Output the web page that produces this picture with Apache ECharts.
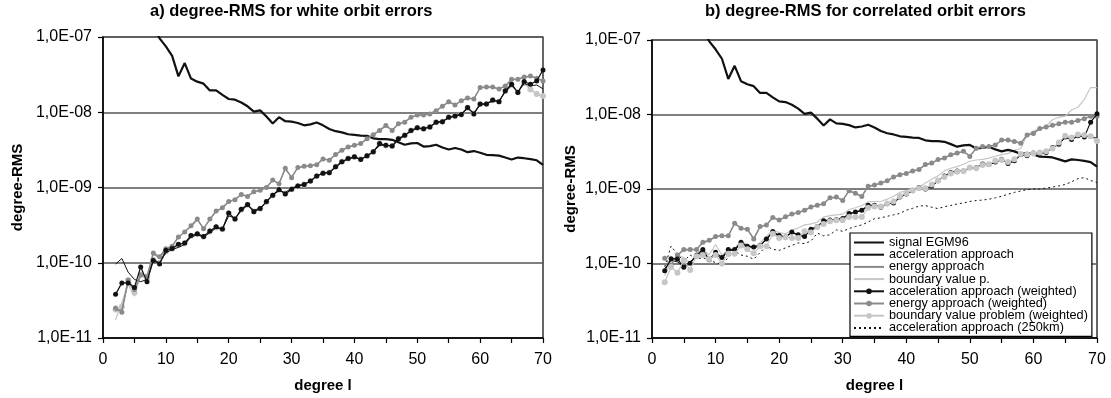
<!DOCTYPE html>
<html><head><meta charset="utf-8">
<script src="https://cdn.jsdelivr.net/npm/echarts@6/dist/echarts.min.js"></script>
<style>html,body{margin:0;padding:0;background:#fff}#c{width:1111px;height:398px}</style>
</head><body><div id="c"></div>
<script>
const degrees = [2,3,4,5,6,7,8,9,10,11,12,13,14,15,16,17,18,19,20,21,22,23,24,25,26,27,28,29,30,31,32,33,34,35,36,37,38,39,40,41,42,43,44,45,46,47,48,49,50,51,52,53,54,55,56,57,58,59,60,61,62,63,64,65,66,67,68,69,70];

const xTicks = [0,10,20,30,40,50,60,70];
const yTicks = ['1,0E-11','1,0E-10','1,0E-09','1,0E-08','1,0E-07'];

// signal EGM96 (same in both panels); degrees 2-7 lie above the plotted range
const signalEGM96 = [null,null,null,null,null,null,1.4e-7,9.6e-8,7.5e-8,5.6e-8,3.0e-8,4.5e-8,2.8e-8,2.55e-8,2.4e-8,1.95e-8,1.95e-8,1.7e-8,1.5e-8,1.47e-8,1.35e-8,1.2e-8,1.02e-8,1.06e-8,8.8e-9,7.1e-9,8.6e-9,7.6e-9,7.5e-9,7.2e-9,6.7e-9,6.9e-9,7.3e-9,6.7e-9,6.0e-9,5.6e-9,5.4e-9,5.1e-9,5.0e-9,4.9e-9,4.85e-9,4.5e-9,4.4e-9,4.4e-9,4.3e-9,4.0e-9,3.7e-9,3.85e-9,3.9e-9,3.5e-9,3.55e-9,3.7e-9,3.4e-9,3.2e-9,3.35e-9,3.2e-9,2.95e-9,3.05e-9,2.9e-9,2.72e-9,2.7e-9,2.65e-9,2.5e-9,2.35e-9,2.5e-9,2.45e-9,2.38e-9,2.3e-9,2.0e-9];

// a) white orbit errors
const whiteAcc = [9.6e-11,1.14e-10,7.5e-11,6.0e-11,5.6e-11,6.0e-11,1.1e-10,1.0e-10,1.35e-10,1.5e-10,1.6e-10,1.75e-10,2.2e-10,2.35e-10,2.2e-10,2.5e-10,2.9e-10,2.8e-10,4.2e-10,3.9e-10,4.9e-10,5.8e-10,5.0e-10,5.3e-10,6.5e-10,8.0e-10,9.0e-10,8.6e-10,9.8e-10,1.06e-9,1.1e-9,1.22e-9,1.42e-9,1.56e-9,1.6e-9,1.85e-9,2.15e-9,2.4e-9,2.5e-9,2.4e-9,2.6e-9,3.0e-9,3.6e-9,3.7e-9,3.5e-9,4.3e-9,4.9e-9,5.6e-9,6.1e-9,6.0e-9,6.5e-9,7.2e-9,7.6e-9,8.4e-9,9.0e-9,9.5e-9,1.12e-8,9.8e-9,1.25e-8,1.3e-8,1.4e-8,1.42e-8,1.85e-8,2.25e-8,1.85e-8,2.4e-8,2.25e-8,2.3e-8,2.05e-8];
const whiteEnergy = [2.3e-11,2.4e-11,5.5e-11,4.2e-11,7.2e-11,6.4e-11,1.3e-10,1.15e-10,1.5e-10,1.7e-10,2.15e-10,2.6e-10,3.0e-10,3.7e-10,2.9e-10,3.7e-10,4.8e-10,5.3e-10,6.4e-10,7.0e-10,8.0e-10,7.7e-10,8.7e-10,9.3e-10,1.0e-9,1.24e-9,1.13e-9,1.75e-9,1.38e-9,1.83e-9,1.9e-9,1.96e-9,2.02e-9,2.38e-9,2.33e-9,2.7e-9,3.1e-9,3.4e-9,3.6e-9,3.85e-9,4.4e-9,5.0e-9,5.7e-9,6.5e-9,5.8e-9,6.9e-9,7.4e-9,8.5e-9,9.1e-9,9.2e-9,9.6e-9,1.06e-8,1.19e-8,1.36e-8,1.27e-8,1.41e-8,1.53e-8,1.52e-8,2.1e-8,2.15e-8,2.15e-8,2.05e-8,2.25e-8,2.7e-8,2.75e-8,2.9e-8,3.0e-8,2.8e-8,2.65e-8];
const whiteBvp = [1.75e-11,3.0e-11,5.2e-11,3.6e-11,6.8e-11,6.0e-11,1.05e-10,1.0e-10,1.38e-10,1.52e-10,1.7e-10,1.8e-10,2.25e-10,2.35e-10,2.2e-10,2.55e-10,2.9e-10,2.75e-10,4.4e-10,3.8e-10,5.0e-10,5.9e-10,4.9e-10,5.2e-10,6.4e-10,7.9e-10,9.3e-10,8.2e-10,9.4e-10,1.04e-9,1.09e-9,1.21e-9,1.4e-9,1.54e-9,1.57e-9,1.87e-9,2.18e-9,2.4e-9,2.55e-9,2.35e-9,2.62e-9,2.95e-9,3.75e-9,3.6e-9,3.55e-9,4.4e-9,4.9e-9,5.7e-9,6.2e-9,6.0e-9,6.3e-9,7.3e-9,7.5e-9,8.5e-9,8.9e-9,9.3e-9,1.14e-8,9.6e-9,1.27e-8,1.28e-8,1.43e-8,1.38e-8,1.9e-8,2.3e-8,1.85e-8,2.45e-8,2.05e-8,1.72e-8,1.6e-8];
const whiteAccW = [3.8e-11,5.4e-11,5.4e-11,4.7e-11,8.8e-11,5.6e-11,1.07e-10,9.6e-11,1.47e-10,1.55e-10,1.76e-10,1.83e-10,2.3e-10,2.42e-10,2.24e-10,2.65e-10,3.0e-10,2.8e-10,4.6e-10,3.8e-10,5.15e-10,5.95e-10,4.75e-10,5.25e-10,6.5e-10,7.9e-10,9.4e-10,8.2e-10,9.5e-10,1.05e-9,1.1e-9,1.22e-9,1.42e-9,1.55e-9,1.57e-9,1.89e-9,2.2e-9,2.43e-9,2.56e-9,2.36e-9,2.64e-9,2.98e-9,3.83e-9,3.64e-9,3.57e-9,4.46e-9,4.93e-9,5.74e-9,6.22e-9,6.04e-9,6.35e-9,7.39e-9,7.5e-9,8.6e-9,8.9e-9,9.3e-9,1.16e-8,9.5e-9,1.29e-8,1.29e-8,1.45e-8,1.38e-8,1.93e-8,2.36e-8,1.83e-8,2.56e-8,2.36e-8,2.61e-8,3.64e-8];
const whiteEnergyW = [2.5e-11,2.2e-11,5.9e-11,4.4e-11,6.9e-11,6.6e-11,1.35e-10,1.2e-10,1.54e-10,1.66e-10,2.2e-10,2.56e-10,3.1e-10,3.8e-10,2.82e-10,3.8e-10,4.86e-10,5.4e-10,6.5e-10,6.9e-10,8.1e-10,7.6e-10,8.8e-10,9.2e-10,1.0e-9,1.26e-9,1.12e-9,1.8e-9,1.35e-9,1.85e-9,1.92e-9,1.95e-9,2.0e-9,2.4e-9,2.31e-9,2.74e-9,3.13e-9,3.46e-9,3.64e-9,3.83e-9,4.46e-9,5.03e-9,5.74e-9,6.68e-9,5.74e-9,7.02e-9,7.39e-9,8.6e-9,9.2e-9,9.2e-9,9.5e-9,1.05e-8,1.2e-8,1.38e-8,1.25e-8,1.42e-8,1.55e-8,1.5e-8,2.13e-8,2.17e-8,2.17e-8,2.03e-8,2.24e-8,2.75e-8,2.75e-8,2.95e-8,3.04e-8,2.83e-8,2.61e-8];
const whiteBvpW = [2.4e-11,2.6e-11,5.8e-11,4.0e-11,7.0e-11,6.2e-11,1.1e-10,1.0e-10,1.4e-10,1.53e-10,1.72e-10,1.82e-10,2.28e-10,2.4e-10,2.22e-10,2.6e-10,2.95e-10,2.78e-10,4.5e-10,3.8e-10,5.1e-10,5.9e-10,4.8e-10,5.2e-10,6.4e-10,7.8e-10,9.3e-10,8.3e-10,9.5e-10,1.05e-9,1.1e-9,1.22e-9,1.41e-9,1.55e-9,1.58e-9,1.88e-9,2.2e-9,2.42e-9,2.55e-9,2.37e-9,2.63e-9,2.97e-9,3.8e-9,3.62e-9,3.56e-9,4.45e-9,4.92e-9,5.7e-9,6.2e-9,6.0e-9,6.35e-9,7.35e-9,7.5e-9,8.55e-9,8.9e-9,9.3e-9,1.15e-8,9.6e-9,1.28e-8,1.29e-8,1.44e-8,1.39e-8,1.9e-8,2.33e-8,1.85e-8,2.45e-8,2.0e-8,1.75e-8,1.65e-8];

// b) correlated orbit errors
const corrAcc = [8.5e-11,1.1e-10,1.05e-10,9.2e-11,1.05e-10,1.25e-10,1.45e-10,1.1e-10,1.35e-10,1.15e-10,1.5e-10,1.5e-10,1.85e-10,1.7e-10,1.62e-10,1.72e-10,2.1e-10,2.6e-10,2.35e-10,2.25e-10,2.6e-10,2.4e-10,2.3e-10,2.8e-10,3.1e-10,3.7e-10,3.75e-10,3.85e-10,4.0e-10,4.6e-10,4.9e-10,5.1e-10,5.9e-10,6.0e-10,5.75e-10,6.3e-10,6.5e-10,7.7e-10,8.5e-10,9.4e-10,1.04e-9,1.0e-9,1.1e-9,1.28e-9,1.48e-9,1.64e-9,1.72e-9,1.74e-9,1.9e-9,1.92e-9,2.15e-9,2.1e-9,2.28e-9,2.48e-9,2.2e-9,2.4e-9,2.85e-9,2.8e-9,3.0e-9,3.0e-9,3.1e-9,3.55e-9,4.0e-9,4.9e-9,4.6e-9,5.1e-9,5.1e-9,5.0e-9,4.8e-9];
const corrEnergy = [1.15e-10,9.8e-11,1.28e-10,1.5e-10,1.52e-10,1.55e-10,1.9e-10,2.0e-10,2.28e-10,2.35e-10,2.4e-10,3.4e-10,3.0e-10,2.85e-10,2.2e-10,3.1e-10,3.3e-10,4.1e-10,3.85e-10,4.2e-10,4.55e-10,4.8e-10,5.15e-10,5.7e-10,6.0e-10,6.4e-10,7.5e-10,7.7e-10,7.1e-10,9.4e-10,8.7e-10,8.0e-10,1.08e-9,1.12e-9,1.2e-9,1.28e-9,1.44e-9,1.54e-9,1.62e-9,1.73e-9,1.84e-9,2.1e-9,2.22e-9,2.46e-9,2.6e-9,2.85e-9,3.0e-9,3.18e-9,2.8e-9,3.5e-9,3.68e-9,3.72e-9,3.92e-9,4.5e-9,4.5e-9,4.35e-9,4.15e-9,5.25e-9,5.55e-9,6.4e-9,6.75e-9,7.1e-9,7.45e-9,7.85e-9,7.95e-9,8.3e-9,8.8e-9,9.4e-9,9.6e-9];
const corrBvp = [6.9e-11,1.05e-10,1.3e-10,1.2e-10,1.0e-10,1.4e-10,1.55e-10,1.3e-10,1.8e-10,1.3e-10,1.5e-10,1.6e-10,2.0e-10,1.8e-10,1.6e-10,1.9e-10,2.3e-10,2.8e-10,2.6e-10,2.5e-10,2.8e-10,3.0e-10,3.3e-10,3.4e-10,3.6e-10,4.2e-10,4.4e-10,4.5e-10,4.6e-10,5.3e-10,5.6e-10,6.0e-10,6.7e-10,6.8e-10,6.8e-10,7.3e-10,8.0e-10,9.0e-10,9.5e-10,1.0e-9,1.05e-9,1.2e-9,1.35e-9,1.5e-9,1.75e-9,1.9e-9,2.0e-9,2.15e-9,2.36e-9,2.45e-9,2.5e-9,2.6e-9,2.75e-9,2.9e-9,3.0e-9,3.3e-9,3.5e-9,5.3e-9,6.0e-9,6.5e-9,7.0e-9,8.5e-9,9.2e-9,9.5e-9,1.15e-8,1.25e-8,1.6e-8,2.3e-8,2.3e-8];
const corrAccW = [8.0e-11,1.16e-10,1.15e-10,8.9e-11,1.01e-10,1.29e-10,1.54e-10,1.12e-10,1.42e-10,1.2e-10,1.54e-10,1.54e-10,1.93e-10,1.71e-10,1.67e-10,1.75e-10,2.13e-10,2.69e-10,2.38e-10,2.27e-10,2.64e-10,2.43e-10,2.31e-10,2.89e-10,3.13e-10,3.76e-10,3.83e-10,3.9e-10,4.03e-10,4.69e-10,4.93e-10,5.19e-10,6.04e-10,6.04e-10,5.7e-10,6.35e-10,6.5e-10,7.8e-10,8.6e-10,9.5e-10,1.05e-9,1.0e-9,1.1e-9,1.29e-9,1.5e-9,1.66e-9,1.74e-9,1.74e-9,1.93e-9,1.93e-9,2.17e-9,2.13e-9,2.3e-9,2.5e-9,2.2e-9,2.4e-9,2.9e-9,2.8e-9,3.04e-9,3.0e-9,3.1e-9,3.6e-9,4.0e-9,5.0e-9,4.6e-9,5.2e-9,5.0e-9,7.9e-9,1.02e-8];
const corrEnergyW = [1.18e-10,9.5e-11,1.3e-10,1.54e-10,1.54e-10,1.54e-10,1.93e-10,2.05e-10,2.31e-10,2.36e-10,2.36e-10,3.46e-10,2.98e-10,2.89e-10,2.13e-10,3.13e-10,3.29e-10,4.15e-10,3.83e-10,4.24e-10,4.6e-10,4.83e-10,5.19e-10,5.74e-10,6.04e-10,6.35e-10,7.62e-10,7.78e-10,7.02e-10,9.5e-10,8.77e-10,7.93e-10,1.09e-9,1.13e-9,1.2e-9,1.29e-9,1.45e-9,1.55e-9,1.62e-9,1.74e-9,1.83e-9,2.13e-9,2.24e-9,2.48e-9,2.61e-9,2.89e-9,3.04e-9,3.2e-9,2.74e-9,3.53e-9,3.71e-9,3.71e-9,3.9e-9,4.55e-9,4.55e-9,4.33e-9,4.11e-9,5.3e-9,5.57e-9,6.48e-9,6.8e-9,7.15e-9,7.5e-9,7.9e-9,7.9e-9,8.3e-9,8.8e-9,9.5e-9,9.5e-9];
const corrBvpW = [5.6e-11,9.0e-11,7.5e-11,1.1e-10,8.2e-11,1.25e-10,1.3e-10,1.15e-10,1.3e-10,1.0e-10,1.35e-10,1.35e-10,1.75e-10,1.55e-10,1.37e-10,1.7e-10,1.7e-10,2.5e-10,2.2e-10,2.25e-10,2.2e-10,2.2e-10,2.7e-10,2.6e-10,3.1e-10,3.4e-10,3.7e-10,3.8e-10,3.8e-10,4.2e-10,4.2e-10,4.2e-10,5.6e-10,5.8e-10,5.8e-10,6.4e-10,6.8e-10,8.0e-10,8.8e-10,9.6e-10,1.02e-9,1.02e-9,1.15e-9,1.3e-9,1.45e-9,1.62e-9,1.7e-9,1.75e-9,1.95e-9,1.9e-9,2.1e-9,2.15e-9,2.4e-9,2.45e-9,2.3e-9,2.5e-9,2.95e-9,2.9e-9,3.0e-9,3.1e-9,3.2e-9,3.5e-9,4.2e-9,5.2e-9,4.9e-9,5.4e-9,5.3e-9,5.1e-9,4.4e-9];
const corrAcc250 = [9.0e-11,1.71e-10,1.33e-10,1.08e-10,1.3e-10,1.15e-10,1.2e-10,1.1e-10,1.03e-10,9.8e-11,1.2e-10,1.47e-10,1.3e-10,1.25e-10,1.14e-10,1.4e-10,1.71e-10,1.55e-10,1.5e-10,1.62e-10,1.75e-10,1.89e-10,1.85e-10,2.0e-10,2.56e-10,2.35e-10,2.43e-10,2.83e-10,2.7e-10,2.95e-10,3.13e-10,3.3e-10,3.6e-10,4.0e-10,4.1e-10,4.3e-10,4.5e-10,4.7e-10,5.2e-10,5.5e-10,5.9e-10,6.0e-10,5.7e-10,5.45e-10,5.8e-10,6.0e-10,6.3e-10,6.5e-10,6.8e-10,7.0e-10,7.1e-10,7.3e-10,7.6e-10,8.0e-10,8.5e-10,9.0e-10,9.4e-10,9.8e-10,1.0e-9,1.0e-9,1.03e-9,1.06e-9,1.1e-9,1.15e-9,1.25e-9,1.38e-9,1.42e-9,1.3e-9,1.22e-9];

const BLACK = '#111', GRAY = '#8a8a8a', LGRAY = '#c6c6c6';
const FONT = "'Liberation Sans', Arial, sans-serif";

function pts(vals) {
  const out = [];
  degrees.forEach((d, i) => { if (vals[i] != null) out.push([d, vals[i]]); });
  return out;
}
function yLabel(v) {
  const e = Math.round(Math.log10(v));
  const s = '1,0E-' + String(-e).padStart(2, '0');
  return yTicks.indexOf(s) >= 0 ? s : '';
}

function mkX(idx) {
  return {
    gridIndex: idx, type: 'value', min: xTicks[0], max: xTicks[xTicks.length - 1], interval: 10,
    name: 'degree l', nameLocation: 'middle', nameGap: 40,
    nameTextStyle: { fontFamily: FONT, fontSize: 15, fontWeight: 'bold', color: '#000' },
    axisLine: { onZero: false, lineStyle: { color: '#000', width: 1.5 } },
    axisTick: { show: true, length: 5, lineStyle: { color: '#000', width: 1.2 } },
    minorTick: { show: true, splitNumber: 2, length: 5, lineStyle: { color: '#000', width: 1.2 } },
    axisLabel: { fontFamily: FONT, fontSize: 16, color: '#000', margin: 14 },
    splitLine: { show: false }
  };
}
function mkY(idx, gap) {
  return {
    gridIndex: idx, type: 'log', logBase: 10, min: 1e-11, max: 1e-7,
    name: 'degree-RMS', nameLocation: 'middle', nameGap: gap, nameRotate: 90,
    nameTextStyle: { fontFamily: FONT, fontSize: 15, fontWeight: 'bold', color: '#000' },
    axisLine: { show: true, lineStyle: { color: '#000', width: 1.5 } },
    axisTick: { show: true, length: 5, lineStyle: { color: '#000', width: 1.2 } },
    axisLabel: { fontFamily: FONT, fontSize: 16, color: '#000', margin: 11, formatter: yLabel },
    splitLine: { show: true, lineStyle: { color: '#555', width: 1.6 } }
  };
}

function panelSeries(idx, s) {
  const base = { type: 'line', xAxisIndex: idx, yAxisIndex: idx, animation: false, clip: true };
  const list = [
    Object.assign({}, base, { name: 'signal EGM96', data: pts(signalEGM96), showSymbol: false, symbol: 'none', lineStyle: { color: BLACK, width: 2.2 }, itemStyle: { color: BLACK }, z: 3 }),
    Object.assign({}, base, { name: 'acceleration approach', data: pts(s.acc), showSymbol: false, symbol: 'none', lineStyle: { color: BLACK, width: 1 }, itemStyle: { color: BLACK }, z: 3 }),
    Object.assign({}, base, { name: 'energy approach', data: pts(s.energy), showSymbol: false, symbol: 'none', lineStyle: { color: GRAY, width: 1 }, itemStyle: { color: GRAY }, z: 3 }),
    Object.assign({}, base, { name: 'boundary value p.', data: pts(s.bvp), showSymbol: false, symbol: 'none', lineStyle: { color: LGRAY, width: 1.2 }, itemStyle: { color: LGRAY }, z: 2 }),
    Object.assign({}, base, { name: 'acceleration approach (weighted)', data: pts(s.accW), symbol: 'circle', symbolSize: 5, showSymbol: true, lineStyle: { color: BLACK, width: 1.2 }, itemStyle: { color: BLACK }, z: 5 }),
    Object.assign({}, base, { name: 'energy approach (weighted)', data: pts(s.energyW), symbol: 'circle', symbolSize: 5, showSymbol: true, lineStyle: { color: GRAY, width: 1.5 }, itemStyle: { color: GRAY }, z: 4 }),
    Object.assign({}, base, { name: 'boundary value problem (weighted)', data: pts(s.bvpW), symbol: 'circle', symbolSize: 6, showSymbol: true, lineStyle: { color: LGRAY, width: 1.2 }, itemStyle: { color: LGRAY }, z: s.bvpWz })
  ];
  if (s.acc250) {
    list.push(Object.assign({}, base, { name: 'acceleration approach (250km)', data: pts(s.acc250), showSymbol: false, symbol: 'none', lineStyle: { color: BLACK, width: 1, type: [2, 3] }, itemStyle: { color: BLACK }, z: 3 }));
  }
  return list;
}

const noDot = { opacity: 0 };
const chart = echarts.init(document.getElementById('c'), null, { renderer: 'canvas' });
const option = {
  backgroundColor: '#fff',
  animation: false,
  textStyle: { fontFamily: FONT },
  graphic: [
    { type: 'text', left: 291 - 141, top: 3, style: { text: 'a) degree-RMS for white orbit errors', font: "bold 16.5px 'Liberation Sans', Arial, sans-serif", fill: '#000' } },
    { type: 'text', left: 855 - 150, top: 3, style: { text: 'b) degree-RMS for correlated orbit errors', font: "bold 16.5px 'Liberation Sans', Arial, sans-serif", fill: '#000' } }
  ],
  grid: [
    { left: 103, top: 37, width: 440, height: 305, show: true, borderColor: '#000', borderWidth: 1.2, backgroundColor: 'transparent', containLabel: false },
    { left: 652, top: 40, width: 445, height: 304, show: true, borderColor: '#000', borderWidth: 1.2, backgroundColor: 'transparent', containLabel: false }
  ],
  xAxis: [mkX(0), mkX(1)],
  yAxis: [mkY(0, 78), mkY(1, 74)],
  legend: {
    orient: 'vertical', left: 850, top: 233,
    backgroundColor: '#fff', borderColor: '#000', borderWidth: 1.2, borderRadius: 0,
    padding: [3, 4, 2, 3], itemWidth: 30, itemHeight: 7, itemGap: -0.8,
    textStyle: { fontFamily: FONT, fontSize: 12.7, color: '#000', lineHeight: 11.5 },
    selectedMode: false,
    data: [
      { name: 'signal EGM96', itemStyle: noDot },
      { name: 'acceleration approach', itemStyle: noDot },
      { name: 'energy approach', itemStyle: noDot },
      { name: 'boundary value p.', itemStyle: noDot },
      { name: 'acceleration approach (weighted)' },
      { name: 'energy approach (weighted)' },
      { name: 'boundary value problem (weighted)' },
      { name: 'acceleration approach (250km)', itemStyle: noDot }
    ]
  },
  series: [].concat(
    panelSeries(0, { acc: whiteAcc, energy: whiteEnergy, bvp: whiteBvp, accW: whiteAccW, energyW: whiteEnergyW, bvpW: whiteBvpW, bvpWz: 2 }),
    panelSeries(1, { acc: corrAcc, energy: corrEnergy, bvp: corrBvp, accW: corrAccW, energyW: corrEnergyW, bvpW: corrBvpW, bvpWz: 6, acc250: corrAcc250 })
  )
};
chart.setOption(option);
</script>
</body></html>
